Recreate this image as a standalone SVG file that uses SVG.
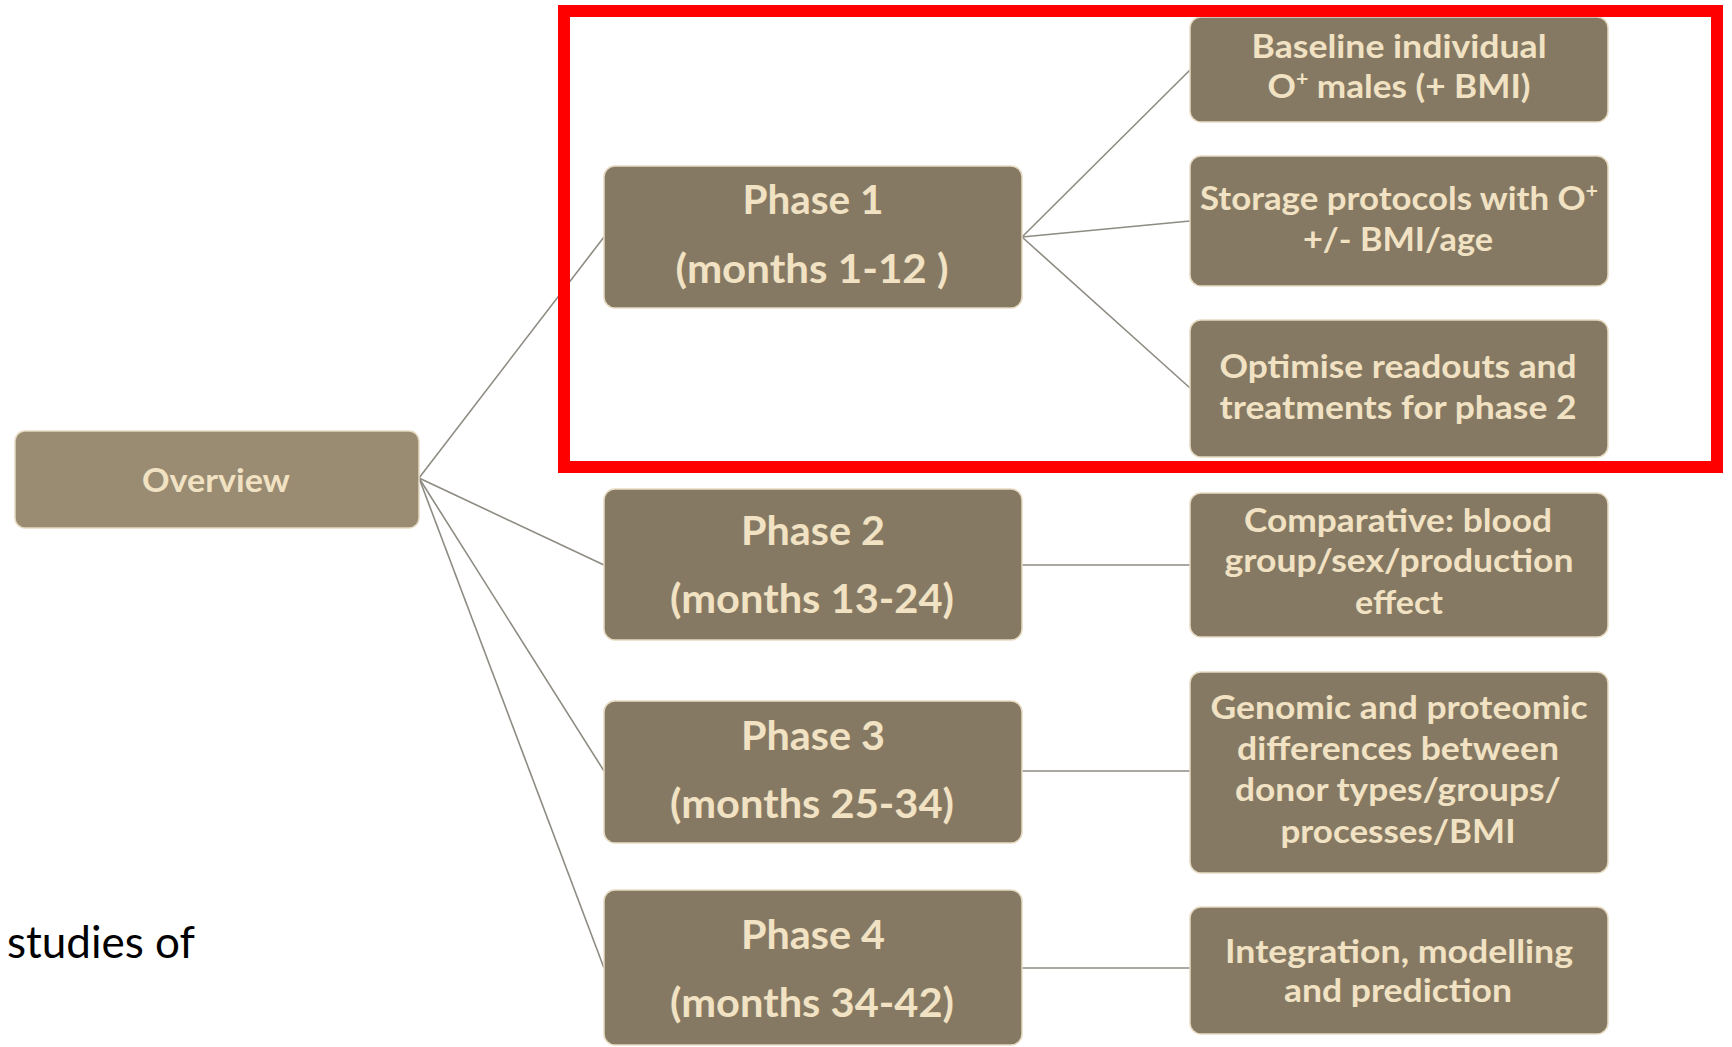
<svg xmlns="http://www.w3.org/2000/svg" width="1732" height="1047" viewBox="0 0 1732 1047">
<style>
.box{fill:#867963;stroke:#e6dac2;stroke-width:1.5}
.ov{fill:#9a8b73;stroke:#e6dac2;stroke-width:1.5}
.t{font-family:Lato,"Open Sans","Liberation Sans",sans-serif;font-weight:bold;fill:#f1e2c3;text-anchor:middle}
.ph{font-size:40px}
.rb{font-size:33px}
.con{stroke:#8e8b82;stroke-width:1.6;fill:none}
</style>
<rect x="0" y="0" width="1732" height="1047" fill="#ffffff"/>
<g id="connectors">
<line class="con" x1="419" y1="478" x2="604" y2="237"/>
<line class="con" x1="419" y1="478" x2="604" y2="565"/>
<line class="con" x1="419" y1="478" x2="604" y2="771"/>
<line class="con" x1="419" y1="478" x2="604" y2="968"/>
<line class="con" x1="1022" y1="237" x2="1190" y2="70"/>
<line class="con" x1="1022" y1="237" x2="1190" y2="221"/>
<line class="con" x1="1022" y1="237" x2="1190" y2="388"/>
<line class="con" x1="1022" y1="565" x2="1190" y2="565"/>
<line class="con" x1="1022" y1="771" x2="1190" y2="771"/>
<line class="con" x1="1022" y1="968" x2="1190" y2="968"/>
</g>
<g id="overview">
<rect class="ov" x="15" y="431" width="404" height="97" rx="10"/>
<text class="t" x="216" y="492" font-size="32" textLength="148" lengthAdjust="spacingAndGlyphs">Overview</text>
</g>
<g id="phase1">
<rect class="box" x="604" y="166" width="418" height="142" rx="11"/>
<text class="t ph" x="813" y="214" textLength="141" lengthAdjust="spacingAndGlyphs">Phase 1</text>
<text class="t ph" x="812" y="283" textLength="273" lengthAdjust="spacingAndGlyphs">(months 1-12 )</text>
</g>
<g id="phase2">
<rect class="box" x="604" y="489" width="418" height="151" rx="11"/>
<text class="t ph" x="813" y="545" textLength="144" lengthAdjust="spacingAndGlyphs">Phase 2</text>
<text class="t ph" x="812" y="613" textLength="284" lengthAdjust="spacingAndGlyphs">(months 13-24)</text>
</g>
<g id="phase3">
<rect class="box" x="604" y="701" width="418" height="142" rx="11"/>
<text class="t ph" x="813" y="750" textLength="144" lengthAdjust="spacingAndGlyphs">Phase 3</text>
<text class="t ph" x="812" y="818" textLength="284" lengthAdjust="spacingAndGlyphs">(months 25-34)</text>
</g>
<g id="phase4">
<rect class="box" x="604" y="890" width="418" height="155" rx="11"/>
<text class="t ph" x="813" y="949" textLength="144" lengthAdjust="spacingAndGlyphs">Phase 4</text>
<text class="t ph" x="812" y="1017" textLength="284" lengthAdjust="spacingAndGlyphs">(months 34-42)</text>
</g>
<g id="baseline">
<rect class="box" x="1190" y="17" width="418" height="105" rx="11"/>
<text class="t rb" x="1399" y="58" textLength="295" lengthAdjust="spacingAndGlyphs">Baseline individual</text>
<text class="t rb" x="1399" y="98" textLength="263" lengthAdjust="spacingAndGlyphs">O<tspan font-size="20" dy="-12">+</tspan><tspan dy="12"> males (+ BMI)</tspan></text>
</g>
<g id="storage">
<rect class="box" x="1190" y="156" width="418" height="130" rx="11"/>
<text class="t rb" x="1399" y="210" textLength="398" lengthAdjust="spacingAndGlyphs">Storage protocols with O<tspan font-size="20" dy="-12">+</tspan></text>
<text class="t rb" x="1398" y="251" textLength="190" lengthAdjust="spacingAndGlyphs">+/- BMI/age</text>
</g>
<g id="optimise">
<rect class="box" x="1190" y="320" width="418" height="137" rx="11"/>
<text class="t rb" x="1398" y="378" textLength="357" lengthAdjust="spacingAndGlyphs">Optimise readouts and</text>
<text class="t rb" x="1398" y="419" textLength="357" lengthAdjust="spacingAndGlyphs">treatments for phase 2</text>
</g>
<g id="comparative">
<rect class="box" x="1190" y="493" width="418" height="144" rx="11"/>
<text class="t rb" x="1398" y="532" textLength="308" lengthAdjust="spacingAndGlyphs">Comparative: blood</text>
<text class="t rb" x="1399" y="572" textLength="349" lengthAdjust="spacingAndGlyphs">group/sex/production</text>
<text class="t rb" x="1399" y="614" textLength="88" lengthAdjust="spacingAndGlyphs">effect</text>
</g>
<g id="genomic">
<rect class="box" x="1190" y="672" width="418" height="201" rx="11"/>
<text class="t rb" x="1399" y="719" textLength="377" lengthAdjust="spacingAndGlyphs">Genomic and proteomic</text>
<text class="t rb" x="1398" y="760" textLength="322" lengthAdjust="spacingAndGlyphs">differences between</text>
<text class="t rb" x="1398" y="801" textLength="326" lengthAdjust="spacingAndGlyphs">donor types/groups/</text>
<text class="t rb" x="1398" y="843" textLength="235" lengthAdjust="spacingAndGlyphs">processes/BMI</text>
</g>
<g id="integration">
<rect class="box" x="1190" y="907" width="418" height="127" rx="11"/>
<text class="t rb" x="1399" y="963" textLength="348" lengthAdjust="spacingAndGlyphs">Integration, modelling</text>
<text class="t rb" x="1398" y="1002" textLength="228" lengthAdjust="spacingAndGlyphs">and prediction</text>
</g>
<rect id="highlight" x="564" y="11" width="1153" height="456" fill="none" stroke="#ff0000" stroke-width="12"/>
<text x="7" y="958" font-family="Lato,'Open Sans','Liberation Sans',sans-serif" font-size="44" fill="#000000" textLength="188" lengthAdjust="spacingAndGlyphs">studies of</text>
</svg>
